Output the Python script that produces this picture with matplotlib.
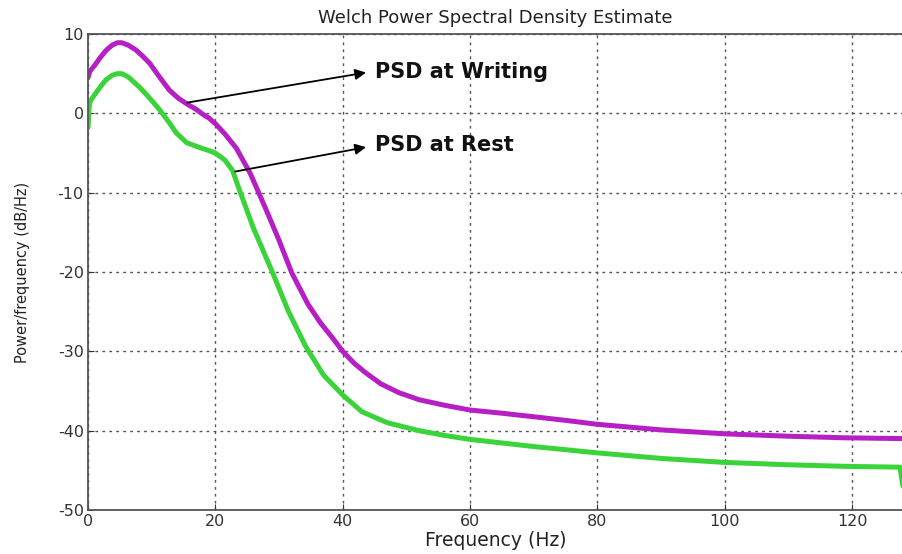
import matplotlib
matplotlib.use("Agg")
import matplotlib.pyplot as plt

plt.rcParams["axes.unicode_minus"] = False

# PSD while writing (magenta)
f_write = [0, 0.3, 1.0, 1.9, 2.8, 3.8, 4.6, 5.3, 6.3, 7.5, 8.6, 9.7, 11.3, 12.8,
           14.2, 15.5, 17, 18, 19, 20, 21.5, 23.3, 25.5, 28, 30, 32, 34.5, 36.5,
           38.3, 40, 41.8, 43.6, 46, 48.8, 52, 56, 60, 65, 69.5, 75, 80, 90,
           100, 110, 119, 128]
p_write = [4.5, 5.3, 6.0, 7.0, 7.9, 8.6, 8.9, 8.9, 8.6, 8.0, 7.2, 6.3, 4.5, 2.9,
           1.9, 1.2, 0.5, -0.1, -0.6, -1.3, -2.6, -4.4, -7.6, -12.2, -16.0, -20.1,
           -24.0, -26.4, -28.2, -30.0, -31.5, -32.7, -34.1, -35.2, -36.1, -36.8,
           -37.4, -37.8, -38.2, -38.7, -39.2, -39.9, -40.4, -40.7, -40.9, -41.0]

# PSD at rest (green)
f_rest = [0, 0.2, 0.4, 1.0, 1.9, 2.8, 3.8, 4.6, 5.3, 6.3, 8.1, 9.7, 11.3, 12.6,
          13.9, 15.5, 17.5, 19, 20, 21.5, 22.7, 23.8, 26, 29, 31.5, 34.2, 37,
          40, 43, 47, 52, 56, 60, 70, 80, 90, 100, 110, 119, 127.5, 128]
p_rest = [-1.8, 1.0, 1.6, 2.3, 3.3, 4.2, 4.8, 5.0, 5.0, 4.6, 3.3, 1.9, 0.4, -1.0,
          -2.5, -3.7, -4.3, -4.7, -5.0, -5.9, -7.2, -9.7, -14.5, -20.1, -25.0,
          -29.4, -33.0, -35.5, -37.6, -39.0, -40.0, -40.6, -41.1, -42.0, -42.8,
          -43.5, -44.0, -44.3, -44.5, -44.6, -47.0]

xticks = [0, 20, 40, 60, 80, 100, 120]
yticks = [-50, -40, -30, -20, -10, 0, 10]

fig = plt.figure(figsize=(9.02, 5.54), dpi=100)
ax = fig.add_axes([88 / 902, 44 / 554, 815 / 902, 476 / 554])

ax.plot(f_write, p_write, color="#b51fc4", lw=3.6, solid_capstyle="round",
        solid_joinstyle="round")
ax.plot(f_rest, p_rest, color="#3ad43a", lw=3.6, solid_capstyle="round",
        solid_joinstyle="round")

ax.set_xlim(0, 128)
ax.set_ylim(-50, 10)
ax.set_xticks(xticks)
ax.set_yticks(yticks)
ax.grid(True, color="#555555", linestyle=(0, (2, 3)), lw=1.0)
ax.tick_params(direction="in", length=4, labelsize=11.5, colors="#333333", pad=3)
for s in ax.spines.values():
    s.set_color("#555555")
    s.set_linewidth(1.3)
ax.spines["right"].set_visible(False)

ax.set_title("Welch Power Spectral Density Estimate", fontsize=13, color="#222222", pad=8)
ax.set_xlabel("Frequency (Hz)", fontsize=13.5, color="#222222", labelpad=1)
ax.set_ylabel("Power/frequency (dB/Hz)", fontsize=10.5, color="#222222", labelpad=20)

arrow = dict(arrowstyle="-|>", color="black", lw=1.3, mutation_scale=16)
ax.annotate("", xy=(44.1, 5.2), xytext=(15.2, 1.3), arrowprops=arrow)
ax.annotate("", xy=(44.1, -4.2), xytext=(22.7, -7.4), arrowprops=arrow)
ax.text(45, 5.2, "PSD at Writing", fontsize=15, fontweight="bold",
        va="center", ha="left", color="#111111")
ax.text(45, -4.0, "PSD at Rest", fontsize=15, fontweight="bold",
        va="center", ha="left", color="#111111")

fig.savefig("out.png", dpi=100)
